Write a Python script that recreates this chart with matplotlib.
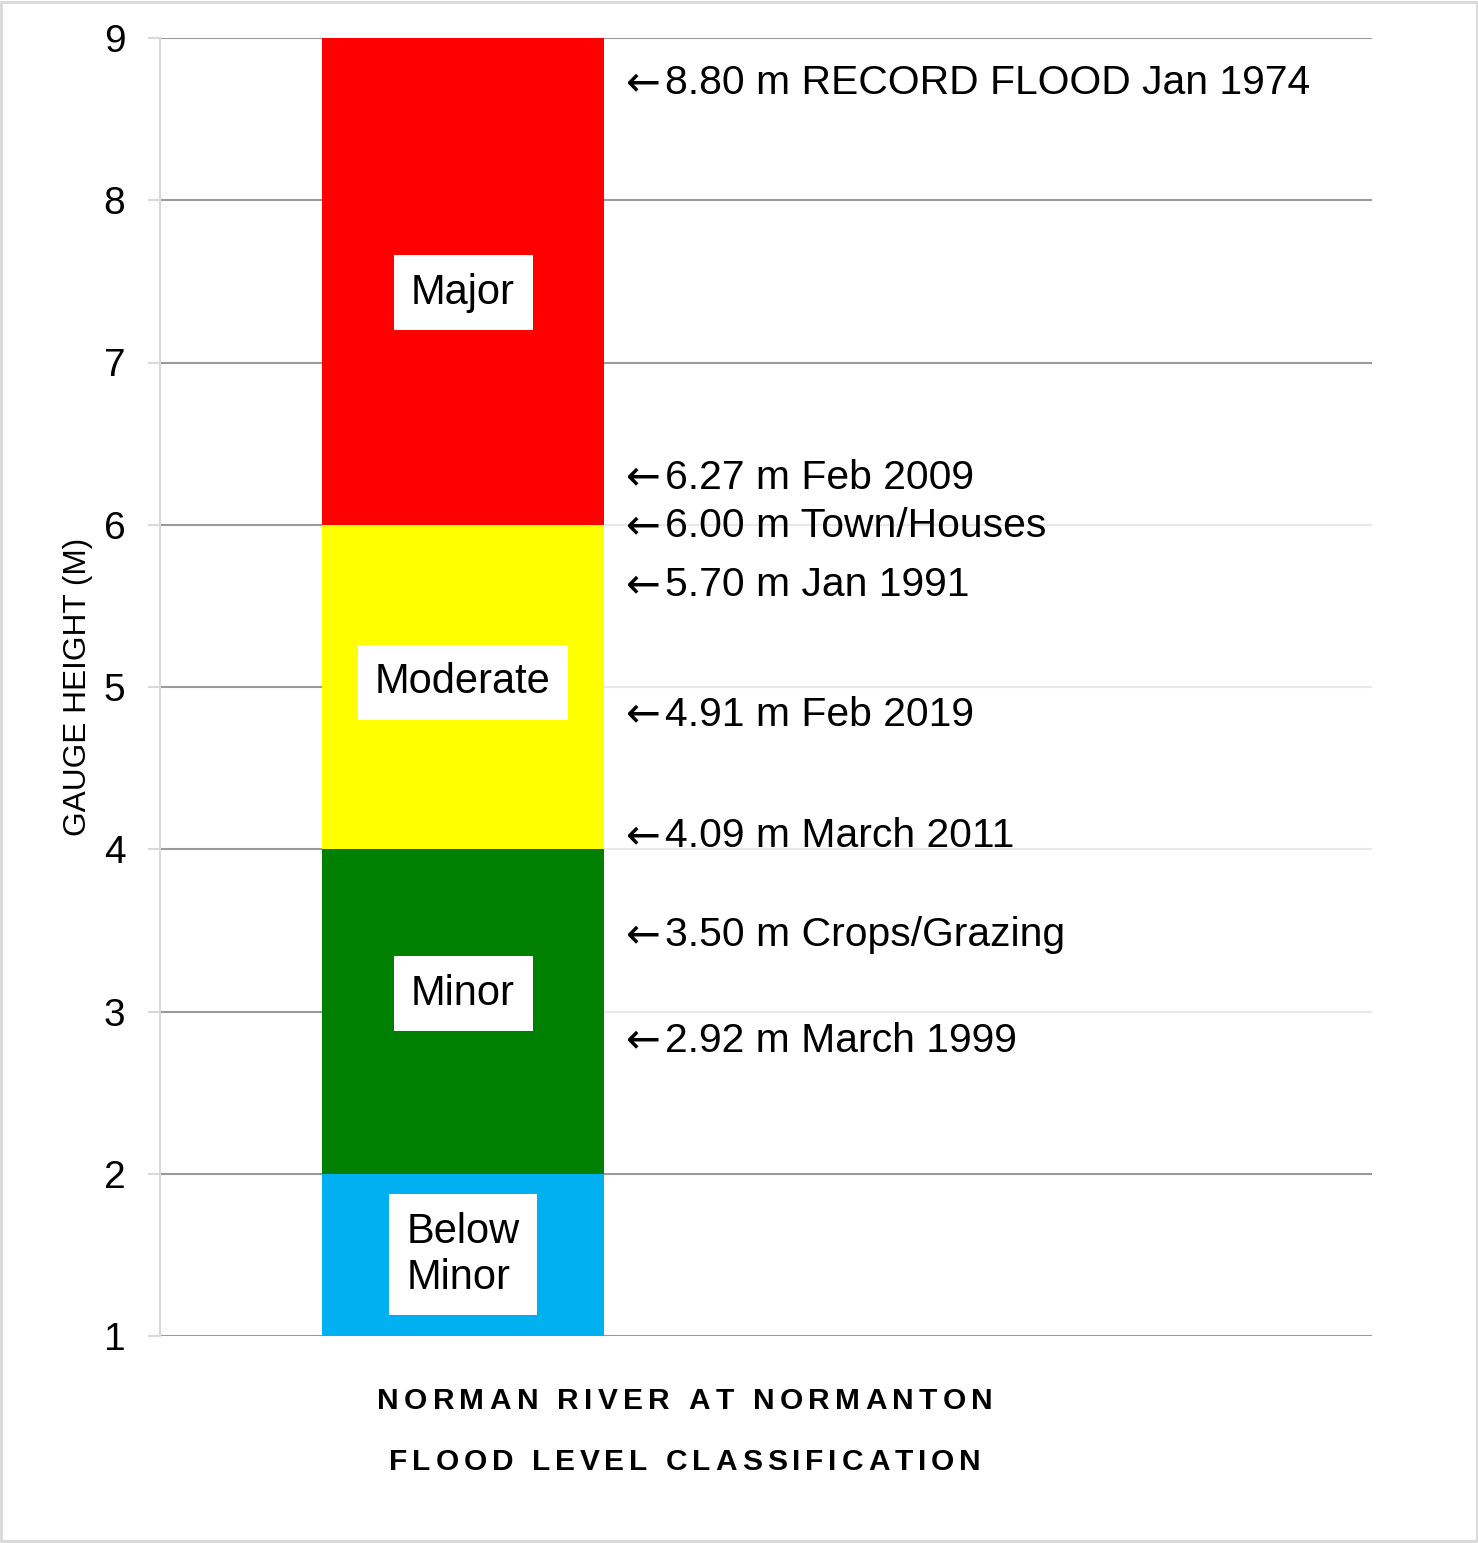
import matplotlib
matplotlib.use("Agg")
import matplotlib.pyplot as plt
from matplotlib.patches import Rectangle

plt.rcParams['font.family'] = ['Liberation Sans', 'DejaVu Sans']

# flood classes (bottom, top) and colours
classes = ['Below\nMinor', 'Minor', 'Moderate', 'Major']
class_bottom = [1, 2, 4, 6]
class_top = [2, 4, 6, 9]
class_colors = ['#00B0F0', '#008000', '#FFFF00', '#FF0000']
label_y = [1.5, 3.11, 5.03, 7.43]

# notes on the right
notes = ['8.80 m RECORD FLOOD Jan 1974', '6.27 m Feb 2009', '6.00 m Town/Houses',
         '5.70 m Jan 1991', '4.91 m Feb 2019', '4.09 m March 2011',
         '3.50 m Crops/Grazing', '2.92 m March 1999']
note_y = [8.72, 6.29, 5.99, 5.63, 4.83, 4.08, 3.47, 2.82]

yticks = [1, 2, 3, 4, 5, 6, 7, 8, 9]

W, H = 1478, 1543
fig = plt.figure(figsize=(W / 100, H / 100), dpi=100)
ax = fig.add_axes([160 / W, 1 - 1336 / H, 1212 / W, 1298 / H])

heights = [t - b for b, t in zip(class_bottom, class_top)]
ax.bar([1] * 4, heights, bottom=class_bottom, width=0.932, color=class_colors,
       zorder=2, linewidth=0)

ax.set_xlim(0, 4)
ax.set_ylim(1, 9)
ax.set_yticks(yticks)
ax.set_xticks([])
ax.set_axisbelow(True)
ax.yaxis.grid(True, color='#9a9a9a', linewidth=1.5)
for s in ['top', 'right', 'bottom']:
    ax.spines[s].set_visible(False)
ax.spines['left'].set_color('#d9d9d9')
ax.spines['left'].set_linewidth(1.5)
ax.tick_params(axis='y', direction='out', length=9, width=1.5, color='#d9d9d9',
               labelsize=28, pad=16)

# faded text box behind the notes
ax.add_patch(Rectangle((1.466, 2.4), 4 - 1.466, 3.8, facecolor='white',
                       alpha=0.78, edgecolor='none', zorder=1))

for name, y in zip(classes, label_y):
    ax.text(1, y, name, ha='center', va='center', fontsize=30, zorder=3,
            multialignment='left',
            bbox=dict(boxstyle='square,pad=0.42', facecolor='white', edgecolor='none'))

for txt, y in zip(notes, note_y):
    ax.text(1.537, y, '\u2190', ha='left', va='center', fontsize=30, zorder=3,
            family='DejaVu Sans')
    ax.text(1.666, y, txt, ha='left', va='center', fontsize=29.4, zorder=3)

fig.text(78 / W, 1 - 687 / H, 'GAUGE HEIGHT (M)', rotation=90, ha='center',
         va='center', fontsize=22.8)


def spaced_text(s, left, right, base, **kw):
    r = fig.canvas.get_renderer()

    def width(st):
        t = fig.text(0, 0, st, **kw)
        w = t.get_window_extent(r).width
        t.remove()
        return w

    sp = width('n n') - width('nn')
    widths = [sp if ch == ' ' else width(ch) for ch in s]
    gap = (right - left - sum(widths)) / (len(s) - 1)
    x = left
    for ch, w in zip(s, widths):
        if ch != ' ':
            fig.text(x / W, 1 - base / H, ch, ha='left', va='baseline', **kw)
        x += w + gap


spaced_text('NORMAN RIVER AT NORMANTON', 377, 993, 1409, fontsize=21.5, fontweight='bold')
spaced_text('FLOOD LEVEL CLASSIFICATION', 389, 981, 1470, fontsize=21.5, fontweight='bold')

fig.patches.append(Rectangle((0.001, 0.001), 0.998, 0.998, transform=fig.transFigure,
                             fill=False, edgecolor='#d9d9d9', linewidth=2))

fig.savefig('out.png', dpi=100)
